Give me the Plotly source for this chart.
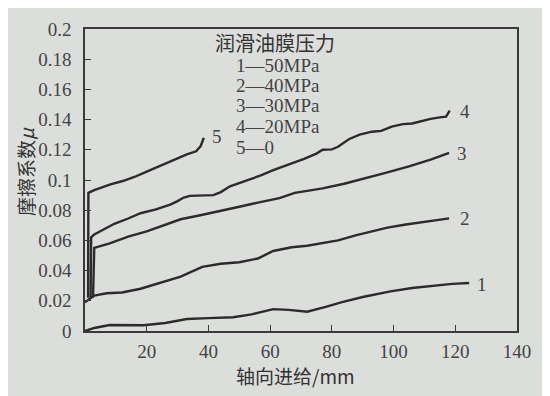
import plotly.graph_objects as go

# ---- data ----
x1 = [0, 3, 8, 14, 19, 26, 33, 40, 48, 54, 61, 66, 72, 78, 83, 90, 99, 106, 113, 119, 124.5]
y1 = [0, 0.002, 0.004, 0.004, 0.0038, 0.0053, 0.0079, 0.0085, 0.0091, 0.011, 0.0145, 0.014,
      0.0128, 0.016, 0.019, 0.0225, 0.0262, 0.0285, 0.0302, 0.0312, 0.0318]

x2 = [0, 3, 7, 12, 18, 25, 31, 38, 44, 50, 56, 61, 67, 72, 77, 82, 88, 93, 98, 104, 110, 118]
y2 = [0.019, 0.0235, 0.025, 0.0255, 0.028, 0.0325, 0.036, 0.0425, 0.0445, 0.0455, 0.048, 0.053,
      0.0555, 0.0565, 0.058, 0.060, 0.0635, 0.066, 0.0685, 0.0705, 0.0722, 0.0746]

x3 = [2.6, 3, 8, 14, 20, 26, 31, 37, 43, 50, 56, 63, 68, 73, 77, 84, 91, 98, 105, 112, 118]
y3 = [0.022, 0.055, 0.058, 0.0625, 0.066, 0.0705, 0.074, 0.0765, 0.079, 0.0823, 0.085, 0.088,
      0.0915, 0.093, 0.0945, 0.0975, 0.101, 0.105, 0.109, 0.1135, 0.118]

x4 = [1.8, 2, 3, 6, 9.5, 14, 18, 23, 27.6, 30, 32, 34, 38, 41.6, 44, 47, 52, 57, 61, 66, 71, 75,
      77, 80, 82, 85.5, 89, 93, 96, 99.4, 103, 106, 109, 112, 115, 117, 118.2]
y4 = [0.022, 0.062, 0.064, 0.067, 0.071, 0.0745, 0.078, 0.0805, 0.0837, 0.086, 0.0884, 0.0895,
      0.0898, 0.090, 0.092, 0.0958, 0.0995, 0.103, 0.1065, 0.110, 0.114, 0.1175, 0.12, 0.1203,
      0.122, 0.127, 0.13, 0.132, 0.1325, 0.1353, 0.137, 0.1374, 0.139, 0.1405, 0.1415, 0.142, 0.146]

x5 = [1, 1.1, 3, 8, 12.5, 16, 20, 25, 30, 33, 36, 37.5, 38.5]
y5 = [0.022, 0.0915, 0.0933, 0.097, 0.0995, 0.102, 0.1055, 0.110, 0.1148, 0.117, 0.119, 0.1225, 0.128]

curve_names = ["1", "2", "3", "4", "5"]
label_x = [126.5, 121, 120, 121, 40.5]
label_y = [0.031, 0.0745, 0.1175, 0.1455, 0.129]

legend_title = "润滑油膜压力"
legend_lines = ["1—50MPa", "2—40MPa", "3—30MPa", "4—20MPa", "5—0"]

x_ticks = [20, 40, 60, 80, 100, 120, 140]
y_ticks = [0, 0.02, 0.04, 0.06, 0.08, 0.1, 0.12, 0.14, 0.16, 0.18, 0.2]
y_tick_text = ["0", "0.02", "0.04", "0.06", "0.08", "0.1", "0.12", "0.14", "0.16", "0.18", "0.2"]

x_title = "轴向进给/mm"
y_title = "摩擦系数<i>μ</i>"

# ---- figure ----
BG = "#dcdedb"
LINE = "#2b2b2b"
TXT = "#444444"
SERIF = "Liberation Serif, Times New Roman, serif"
CJK = "Noto Sans CJK SC, sans-serif"

OFF = 8  # page body margin
W, H = 550 - OFF, 396 - OFF
L, T = 85 - OFF, 29 - OFF
R, B = W - (517 - OFF), H - (331 - OFF)
PW, PH = W - L - R, H - T - B


def px(xp):
    return (xp - OFF - L) / PW


def py(yp):
    return (H - B - (yp - OFF)) / PH


fig = go.Figure()
for xs, ys in [(x1, y1), (x2, y2), (x3, y3), (x4, y4), (x5, y5)]:
    fig.add_trace(go.Scatter(x=xs, y=ys, mode="lines",
                             line=dict(color=LINE, width=2.4, shape="linear"),
                             showlegend=False, hoverinfo="skip"))

ann = []
for n, lx, ly in zip(curve_names, label_x, label_y):
    ann.append(dict(x=lx, y=ly, xref="x", yref="y", text=n, showarrow=False,
                    font=dict(family=SERIF, size=19, color=TXT),
                    xanchor="left", yanchor="middle"))

ann.append(dict(x=px(275), y=py(42), xref="paper", yref="paper", text=legend_title,
                showarrow=False, xanchor="center", yanchor="middle",
                font=dict(family=CJK, size=20, color="#333333")))
for i, t in enumerate(legend_lines):
    ann.append(dict(x=px(234), y=py(65 + i * 20.5), xref="paper", yref="paper", text=t,
                    showarrow=False, xanchor="left", yanchor="middle",
                    font=dict(family=SERIF, size=19, color=TXT)))

ann.append(dict(x=px(295), y=py(375), xref="paper", yref="paper", text=x_title,
                showarrow=False, xanchor="center", yanchor="middle",
                font=dict(family=CJK, size=19, color="#333333")))
ann.append(dict(x=px(25), y=py(172), xref="paper", yref="paper", text=y_title,
                showarrow=False, textangle=-90, xanchor="center", yanchor="middle",
                font=dict(family=CJK, size=19, color="#333333")))

axis_common = dict(showgrid=False, zeroline=False, showline=True, linecolor="#3a3a3a",
                   linewidth=1.6, mirror=True, ticks="inside", ticklen=6, tickwidth=1.3,
                   tickcolor="#3a3a3a", tickfont=dict(family=SERIF, size=19, color=TXT),
                   automargin=False)

fig.update_layout(
    width=W, height=H,
    margin=dict(l=L, r=R, t=T, b=B),
    paper_bgcolor=BG, plot_bgcolor=BG,
    xaxis=dict(range=[0, 140], tickvals=x_ticks, ticklabelstandoff=2, **axis_common),
    yaxis=dict(range=[0, 0.2], tickvals=y_ticks, ticktext=y_tick_text,
               ticklabelstandoff=8, **axis_common),
    annotations=ann,
)

fig.write_html("out.html")
